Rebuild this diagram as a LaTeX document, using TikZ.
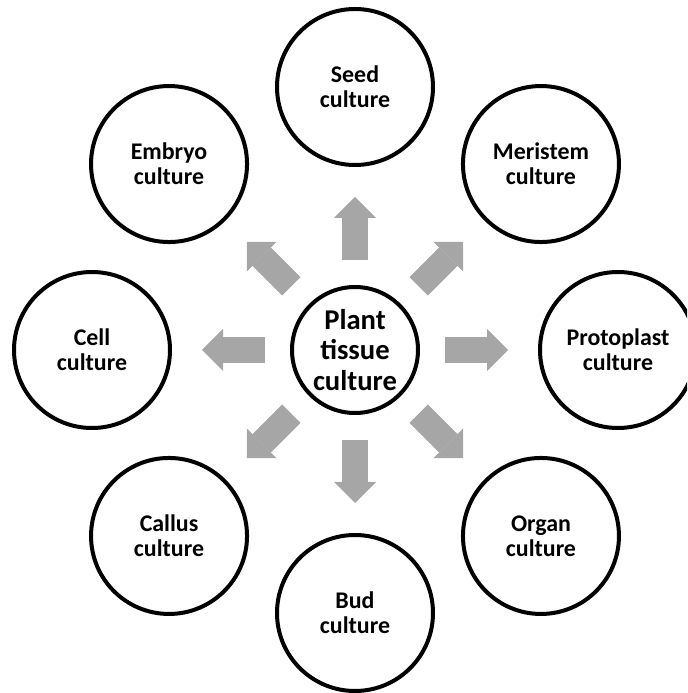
\documentclass[tikz,border=0pt]{standalone}
\usepackage{fontspec}
\setmainfont{Carlito}
\usetikzlibrary{arrows.meta}
\definecolor{arrowgray}{HTML}{A6A6A6}
\tikzset{
  culture/.style={circle, draw, line width=0.08cm, minimum size=3.12cm, inner sep=0pt,
    align=center, font=\fontsize{13.6}{14.2}\selectfont\bfseries},
  hub/.style={culture, minimum size=2.52cm, font=\fontsize{16.3}{17.6}\selectfont\bfseries},
  fatarrow/.style={draw=arrowgray, line width=0.52cm,
    -{Triangle[width=0.84cm, length=0.42cm, line width=0pt]},
    shorten <=0.5cm, shorten >=0.6cm}
}
\begin{document}
\begin{tikzpicture}
      \useasboundingbox (-7.1,-6.86) rectangle (6.64,7.0);
      \clip (-7.1,-6.86) rectangle (6.64,7.0);
      \draw
        (0,0) node[hub] (plant){Plant\\tissue\\culture}
        (90:5.26) node[culture] (seed){Seed\\culture}
        (45:5.26) node[culture] (meristem){Meristem\\culture}
        (0:5.26) node[culture] (protoplast){Protoplast\\culture}
        (315:5.26) node[culture] (organ){Organ\\culture}
        (270:5.26) node[culture] (bud){Bud\\culture}
        (225:5.26) node[culture] (callus){Callus\\culture}
        (180:5.26) node[culture] (cell){Cell\\culture}
        (135:5.26) node[culture] (embryo){Embryo\\culture};
      \begin{scope}[fatarrow]
        \draw (plant) to (seed);
        \draw (plant) to (meristem);
        \draw (plant) to (protoplast);
        \draw (plant) to (organ);
        \draw (plant) to (bud);
        \draw (plant) to (callus);
        \draw (plant) to (cell);
        \draw (plant) to (embryo);
      \end{scope}
    \end{tikzpicture}
\end{document}
